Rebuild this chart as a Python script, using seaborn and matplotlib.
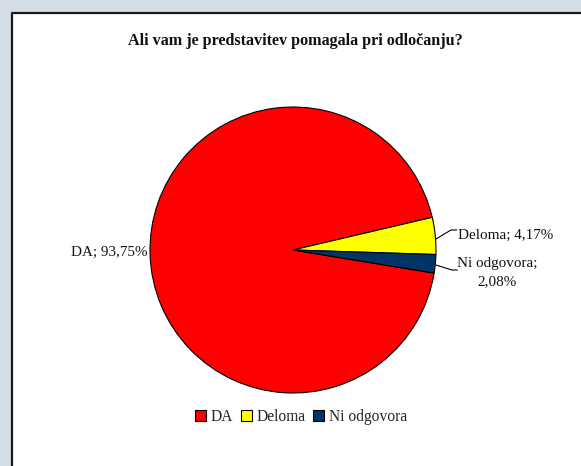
import matplotlib
matplotlib.use("Agg")
import matplotlib.pyplot as plt
import matplotlib.patches as mpatches
import matplotlib.lines as mlines
import seaborn as sns

# data
categories = ["DA", "Deloma", "Ni odgovora"]
shares = [93.75, 4.17, 2.08]
label_texts = ["DA; 93,75%", "Deloma; 4,17%", "Ni odgovora;\n2,08%"]
colors = ["#FF0000", "#FFFF00", "#003366"]
title = "Ali vam je predstavitev pomagala pri odločanju?"

sns.set_style("white")
plt.rcParams["font.family"] = ["Liberation Serif", "DejaVu Serif"]

W, H = 581, 466
fig = plt.figure(figsize=(W / 100, H / 100), dpi=100)
fig.patch.set_facecolor("#d5dee7")

# white chart area, border only on left and top (rest runs off the screenshot)
x0, y0 = 11.5 / W, 1 - 12.5 / H
fig.patches.append(mpatches.Rectangle((x0, 0), 1 - x0, y0, transform=fig.transFigure,
                                      facecolor="white", edgecolor="none", zorder=-5))
fig.lines.append(mlines.Line2D([x0, x0, 1], [0, y0, y0], transform=fig.transFigure,
                               color="#1a1a1a", linewidth=1.6, zorder=-4))

cx, cy, r = 293, 250, 143
ax = fig.add_axes([(cx - r) / W, 1 - (cy + r) / H, 2 * r / W, 2 * r / H])
ax.set_facecolor("none")
wedges, _ = ax.pie(shares, colors=colors, startangle=-9.3, counterclock=False,
                   radius=1, wedgeprops=dict(edgecolor="black", linewidth=0.8))
ax.set_xlim(-1, 1)
ax.set_ylim(-1, 1)
ax.set_aspect("equal")
ax.axis("off")

fs = 10.9
ax.text(-1.02, -0.02, label_texts[0], ha="right", va="center", fontsize=fs, color="#111111")
ax.text(1.155, 0.105, label_texts[1], ha="left", va="center", fontsize=fs, color="#111111")
ax.text(1.43, -0.16, label_texts[2], ha="center", va="center", fontsize=fs,
        color="#111111", multialignment="center", linespacing=1.5)

# leader lines
ax.plot([1.0, 1.105, 1.145], [0.077, 0.14, 0.14], color="black", lw=0.8, clip_on=False)
ax.plot([1.0, 1.112, 1.15], [-0.105, -0.14, -0.14], color="black", lw=0.8, clip_on=False)

fig.text(295 / W, 1 - 41 / H, title, ha="center", va="center", fontsize=11.6,
         fontweight="bold", color="#111111")

handles = [mpatches.Patch(facecolor=c, edgecolor="black", linewidth=0.8) for c in colors]
fig.legend(handles, categories, loc="center", bbox_to_anchor=(301 / W, 1 - 417 / H),
           ncol=3, frameon=False, fontsize=11.2, handlelength=0.7, handleheight=0.7,
           handletextpad=0.3, columnspacing=0.5)

fig.savefig("out.png", dpi=100)
